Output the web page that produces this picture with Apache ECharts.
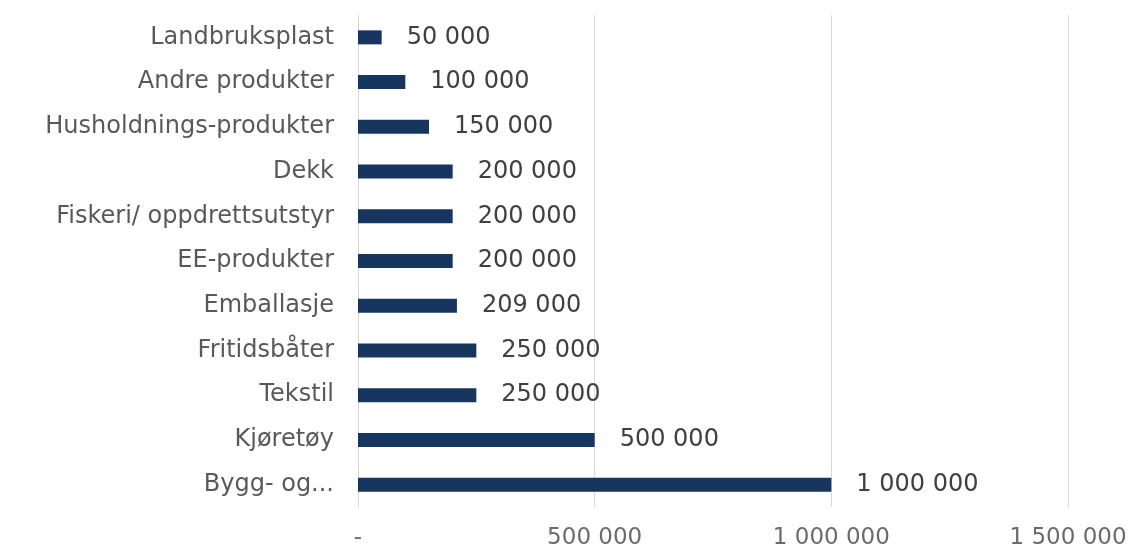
<!DOCTYPE html>
<html>
<head>
<meta charset="utf-8">
<script src="https://cdn.jsdelivr.net/npm/echarts@6/dist/echarts.min.js"></script>
<style>
  html, body { margin: 0; padding: 0; background: #fff; }
  #chart { width: 1135px; height: 554px; }
</style>
</head>
<body>
<div id="chart"></div>
<script>
// bottom to top, as in the picture
var categories = ['Bygg- og...', 'Kjøretøy', 'Tekstil', 'Fritidsbåter', 'Emballasje',
  'EE-produkter', 'Fiskeri/ oppdrettsutstyr', 'Dekk', 'Husholdnings-produkter',
  'Andre produkter', 'Landbruksplast']
var values = [1000000, 500000, 250000, 250000, 209000, 200000, 200000, 200000, 150000, 100000, 50000]
var ticks = [0, 500000, 1000000, 1500000]

function fmt(v) {
  if (v === 0) return '-'
  return String(v).replace(/\B(?=(\d{3})+(?!\d))/g, ' ')
}

var chart = echarts.init(document.getElementById('chart'))
chart.setOption({
  animation: false,
  textStyle: { fontFamily: 'DejaVu Sans' },
  grid: { left: 358, right: 67, top: 15, bottom: 47 },
  xAxis: {
    type: 'value',
    min: ticks[0],
    max: ticks[ticks.length - 1],
    interval: 500000,
    axisLine: { show: false },
    axisTick: { show: false },
    splitLine: { lineStyle: { color: '#d9d9d9' } },
    axisLabel: {
      color: '#6b6b6b', fontSize: 23, margin: 20,
      formatter: fmt
    }
  },
  yAxis: {
    type: 'category',
    data: categories,
    axisLine: { show: true, lineStyle: { color: '#d9d9d9' } },
    axisTick: { show: false },
    axisLabel: { color: '#595959', fontSize: 24, margin: 24 }
  },
  series: [{
    type: 'bar',
    data: values,
    barWidth: 14,
    itemStyle: { color: '#16365f' },
    label: {
      show: true,
      position: 'right',
      distance: 25,
      color: '#404040',
      fontSize: 24,
      formatter: function (p) { return fmt(p.value) }
    }
  }]
})
</script>
</body>
</html>
